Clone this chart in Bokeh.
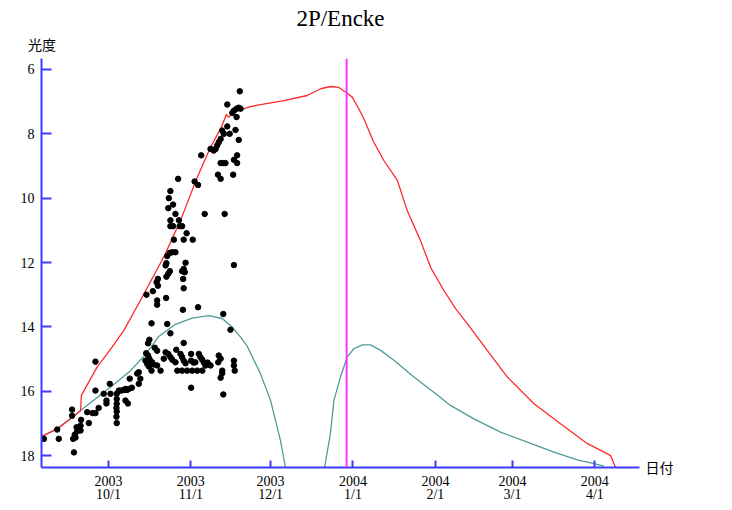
from bokeh.plotting import figure
from bokeh.models import Range1d, FixedTicker, Span, LinearAxis, Title
from bokeh.embed import file_html
from bokeh.resources import INLINE

# ---------------- data ----------------
chart_title = "2P/Encke"
y_label = "光度"
x_label = "日付"

# x values: days since 2003-10-01
tick_days = [0, 31, 61, 92, 123, 152, 183]
tick_labels = ["2003\n10/1", "2003\n11/1", "2003\n12/1", "2004\n1/1",
               "2004\n2/1", "2004\n3/1", "2004\n4/1"]
mag_ticks = [6, 8, 10, 12, 14, 16, 18]

today_day = 89.6

# predicted total magnitude (red)
total_day = [-26, -19.3, -13.1, -10.5, -10.2, -4.3, 0.75, 5.8, 12.0, 20.8, 27.1,
             33.4, 38.4, 42.2, 44.4, 45.2, 47.2, 52.7, 57.2, 66.0, 74.8, 79.8,
             83.6, 86.7, 89.7, 91.7, 94.2, 96.1, 99.8, 103.6, 108.7, 112.4, 117.4,
             121.2, 126.2, 130.6, 135.0, 142.5, 150.1, 160.1, 170.1, 180.2,
             185.2, 188.9, 190.8, 191.2]
total_mag = [17.44, 17.17, 16.78, 16.60, 16.13, 15.25, 14.70, 14.11, 13.18, 11.83,
             10.69, 9.35, 8.42, 7.84, 7.40, 7.49, 7.33, 7.17, 7.09, 6.97, 6.81,
             6.60, 6.53, 6.56, 6.73, 6.86, 7.22, 7.53, 8.26, 8.83, 9.45, 10.38,
             11.32, 12.15, 12.87, 13.43, 13.90, 14.73, 15.56, 16.39, 17.01, 17.63,
             17.84, 18.00, 18.37, 18.6]

# predicted nuclear magnitude (teal), before and after the gap
nuc1_day = [-26, -19.3, -13.1, -10.5, 2.0, 8.3, 14.0, 18.9, 25.2, 31.5, 37.7,
            42.8, 46.6, 49.7, 52.2, 57.2, 61.0, 64.7, 66.6, 67.2]
nuc1_mag = [17.44, 17.17, 16.78, 16.60, 15.79, 15.36, 14.85, 14.30, 13.92, 13.73,
            13.65, 13.74, 14.01, 14.32, 14.60, 15.46, 16.29, 17.53, 18.37, 18.7]
nuc2_day = [80.9, 81.3, 83.5, 84.8, 87.3, 89.8, 92.3, 95.5, 98.6, 102.4, 107.4,
            114.9, 122.4, 128.7, 137.5, 147.5, 157.6, 167.6, 176.4, 182.7, 186.4]
nuc2_mag = [18.6, 18.37, 17.32, 16.29, 15.56, 14.94, 14.68, 14.56, 14.56, 14.73,
            15.04, 15.56, 16.03, 16.44, 16.86, 17.27, 17.58, 17.89, 18.13, 18.25,
            18.33]

# observations
obs_day = [-24.3, -18.7, -19.3, -13.7, -13.7, -13.0, -13.3, -12.7, -11.8, -11.2,
           -10.5, -10.5, -10.3, -12.0, -12.4, -4.9, -8.0, -7.4, -6.0, -4.9,
           -4.9, -3.7, -1.8, -0.75, -0.75, 0.5, 0.75, 3.1, 3.1, 3.1,
           3.0, 3.1, 3.0, 3.1, 3.9, 4.8, 5.8, 6.4, 7.0, 7.6,
           6.4, 7.3, 8.0, 8.8, 10.8, 11.4, 12.0, 11.4, 13.9, 14.6,
           15.2, 14.2, 14.9, 15.4, 15.4, 14.9, 16.2, 16.7, 14.3, 18.3,
           18.3, 17.4, 18.3, 16.4, 17.0, 16.2, 19.6, 18.3, 18.6, 18.1,
           18.6, 20.8, 21.7, 22.1, 23.3, 21.5, 22.5, 23.3, 24.0, 25.2,
           25.5, 25.9, 22.1, 23.1, 24.0, 25.2, 21.8, 21.5, 23.1, 22.5,
           21.8, 24.6, 23.3, 24.3, 23.3, 25.2, 22.5, 24.3, 22.7, 23.3,
           26.2, 26.5, 26.8, 27.7, 29.4, 28.3, 31.7, 29.0, 28.3, 27.7,
           28.7, 28.1, 28.3, 28.0, 28.3, 27.1, 27.7, 28.3, 29.0, 27.7,
           29.6, 31.1, 31.1, 32.0, 31.5, 31.1, 32.7, 33.7, 34.0, 34.6,
           35.3, 35.9, 36.5, 37.3, 33.4, 35.3, 38.4, 32.4, 33.7, 34.9,
           36.2, 38.4, 39.6, 40.3, 40.9, 41.5, 42.2, 42.8, 43.4, 44.7,
           44.7, 45.6, 47.8, 49.0, 47.2, 48.2, 49.0, 49.7, 46.6, 48.2,
           49.4, 48.4, 47.2, 48.4, 42.2, 43.2, 44.0, 41.2, 42.2, 46.9,
           43.7, 47.2, 43.2, 45.9, 41.5, 42.2, 41.3, 42.8, 42.8, 42.2,
           43.2, 47.2, 47.2, 47.5]
obs_mag = [17.48, 17.48, 17.19, 16.57, 16.76, 17.90, 17.48, 17.35, 17.25, 17.15,
           17.22, 17.07, 16.89, 17.12, 17.44, 15.08, 16.65, 16.99, 16.68, 16.68,
           15.98, 16.52, 16.08, 16.29, 16.38, 15.77, 16.08, 16.08, 16.24, 16.39,
           16.52, 16.63, 16.79, 16.99, 15.98, 15.98, 15.96, 15.93, 15.96, 15.93,
           16.29, 16.38, 15.61, 15.89, 15.45, 15.77, 15.61, 15.41, 15.05, 15.15,
           15.23, 14.82, 14.89, 14.99, 14.40, 14.51, 13.89, 12.89, 13.00, 13.18,
           13.31, 14.65, 14.74, 15.10, 15.17, 15.36, 15.36, 15.20, 12.51, 12.61,
           12.72, 14.99, 13.10, 13.91, 14.20, 14.79, 14.84, 14.94, 15.02, 15.10,
           14.71, 15.36, 11.80, 11.70, 11.68, 11.68, 12.02, 12.09, 12.27, 12.35,
           12.44, 11.29, 10.87, 10.87, 10.69, 10.49, 10.31, 10.20, 10.00, 9.78,
           9.40, 10.69, 10.87, 10.87, 11.09, 11.29, 11.29, 12.01, 12.20, 12.27,
           12.30, 12.51, 12.80, 13.47, 14.50, 14.84, 14.94, 15.05, 15.13, 15.36,
           15.36, 14.84, 15.05, 15.11, 15.36, 15.89, 15.10, 13.39, 14.84, 14.94,
           15.02, 15.11, 15.20, 15.11, 15.36, 15.36, 15.20, 9.48, 9.59, 8.67,
           10.49, 8.47, 8.52, 8.47, 8.36, 8.26, 8.16, 7.90, 8.00, 7.77,
           7.09, 8.00, 7.88, 8.19, 7.28, 7.22, 7.19, 7.22, 7.35, 7.48,
           6.68, 8.67, 8.81, 8.91, 8.91, 8.91, 8.91, 9.27, 9.40, 9.27,
           10.49, 12.08, 13.60, 14.09, 14.89, 14.99, 15.10, 15.36, 15.44, 15.58,
           16.10, 15.05, 15.20, 15.36]

# ---------------- styling ----------------
AXIS_BLUE = "#3c3cff"
RED = "#ff2a2a"
TEAL = "#4f9a9a"
MAGENTA = "#ff33ff"
SERIF = "Liberation Serif"
CJK = "Noto Sans CJK JP"

p = figure(
    frame_width=598, frame_height=409,
    min_border_left=41, min_border_right=89, min_border_top=58, min_border_bottom=41,
    x_range=Range1d(-25.2, 199.8), y_range=Range1d(18.37, 5.66),
    output_backend="svg", toolbar_location=None,
)
p.title.text = ""

p.outline_line_color = None
p.grid.visible = False
p.background_fill_color = "white"
p.border_fill_color = "white"

xa = p.xaxis[0]
xa.ticker = FixedTicker(ticks=tick_days)
xa.major_label_overrides = {d: lab for d, lab in zip(tick_days, tick_labels)}
xa.axis_line_color = AXIS_BLUE
xa.axis_line_width = 2
xa.major_tick_line_color = AXIS_BLUE
xa.major_tick_line_width = 2
xa.major_tick_in = 7
xa.major_tick_out = 0
xa.minor_tick_line_color = None
xa.major_label_standoff = 6
xa.major_label_text_font = SERIF
xa.major_label_text_font_size = "14px"
xa.major_label_text_line_height = 0.9
xa.major_label_text_color = "black"

ya = p.yaxis[0]
ya.ticker = FixedTicker(ticks=mag_ticks)
ya.axis_line_color = AXIS_BLUE
ya.axis_line_width = 2
ya.major_tick_line_color = AXIS_BLUE
ya.major_tick_line_width = 2
ya.major_tick_in = 10
ya.major_tick_out = 0
ya.minor_tick_line_color = None
ya.major_label_standoff = 7
ya.major_label_text_font = SERIF
ya.major_label_text_font_size = "14px"
ya.major_label_text_color = "black"

# axis-name captions: "光度" above the y axis, "日付" at the right end of the x axis
p.extra_x_ranges = {"cap": Range1d(-0.001, 1)}
cap_top = LinearAxis(x_range_name="cap", ticker=FixedTicker(ticks=[0]),
                     major_label_overrides={0: y_label})
cap_right = LinearAxis(ticker=FixedTicker(ticks=[18.35]),
                       major_label_overrides={18.35: x_label})
for ax, so in ((cap_top, 5), (cap_right, 6)):
    ax.axis_line_color = None
    ax.major_tick_line_color = None
    ax.minor_tick_line_color = None
    ax.major_tick_in = 0
    ax.major_tick_out = 0
    ax.major_label_standoff = so
    ax.major_label_text_font = CJK
    ax.major_label_text_font_size = "14px"
    ax.major_label_text_color = "black"
p.add_layout(cap_top, "above")
p.add_layout(cap_right, "right")

p.add_layout(Title(text=chart_title, text_font=SERIF, text_font_size="23px",
                   text_font_style="normal", text_color="black", align="center",
                   standoff=0), "above")

p.line(nuc1_day, nuc1_mag, line_color=TEAL, line_width=1.3)
p.line(nuc2_day, nuc2_mag, line_color=TEAL, line_width=1.3)
p.line(total_day, total_mag, line_color=RED, line_width=1.3)
p.add_layout(Span(location=today_day, dimension="height", line_color=MAGENTA, line_width=2))
p.scatter(obs_day, obs_mag, size=5.5, color="black")

open("out.html", "w").write(file_html(p, INLINE))
